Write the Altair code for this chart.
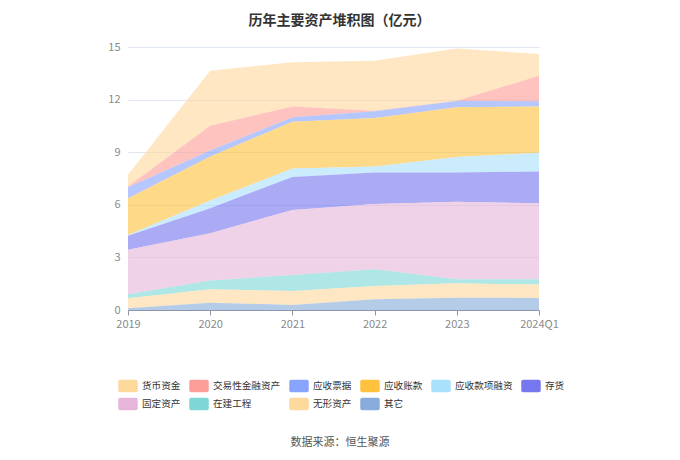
import altair as alt
import pandas as pd

years = ["2019", "2020", "2021", "2022", "2023", "2024Q1"]

# legend order (top of stack first)
series = ["货币资金", "交易性金融资产", "应收票据", "应收账款", "应收款项融资",
          "存货", "固定资产", "在建工程", "无形资产", "其它"]
colors = ["#FED99C", "#FD9E98", "#88A4FE", "#FEC23E", "#A9E1FC",
          "#7777EF", "#E6B6DA", "#7ED6D6", "#FED99C", "#88ADDC"]

v_cash = [0.67, 3.14, 2.52, 2.86, 2.98, 1.24]
v_trade = [0.04, 1.41, 0.61, 0.03, 0.02, 1.46]
v_notes = [0.62, 0.34, 0.26, 0.38, 0.35, 0.29]
v_ar = [2.10, 2.52, 2.67, 2.76, 2.85, 2.64]
v_arfin = [0.05, 0.43, 0.49, 0.35, 0.88, 1.07]
v_inv = [0.80, 1.43, 1.87, 1.79, 1.67, 1.81]
v_fixed = [2.53, 2.70, 3.71, 3.73, 4.42, 4.34]
v_cip = [0.23, 0.50, 0.91, 0.95, 0.23, 0.30]
v_intang = [0.57, 0.76, 0.80, 0.76, 0.82, 0.76]
v_other = [0.10, 0.42, 0.29, 0.61, 0.70, 0.69]

values = [v_cash, v_trade, v_notes, v_ar, v_arfin, v_inv, v_fixed, v_cip, v_intang, v_other]

rows = []
for si, (name, vals) in enumerate(zip(series, values)):
    for yr, v in zip(years, vals):
        rows.append({"year": yr, "series": name, "value": v, "order": len(series) - si})
df = pd.DataFrame(rows)

FONT = "Noto Sans CJK SC"
rounded = ("M-0.8,-0.63 H0.8 A0.2,0.2 0 0 1 1,-0.43 V0.43 A0.2,0.2 0 0 1 0.8,0.63 "
           "H-0.8 A0.2,0.2 0 0 1 -1,0.43 V-0.43 A0.2,0.2 0 0 1 -0.8,-0.63 Z")

area = alt.Chart(df).mark_area(opacity=0.62, interpolate="linear").encode(
    x=alt.X("year:O", sort=years, scale=alt.Scale(padding=0),
            axis=alt.Axis(title=None, labelAngle=0, labelColor="#8a8a8a", labelFontSize=11,
                          labelFont=FONT, domainColor="#8C96A8", tickColor="#8C96A8",
                          tickSize=5, labelPadding=3, grid=False)),
    y=alt.Y("value:Q", stack="zero", scale=alt.Scale(domain=[0, 15], nice=False),
            axis=alt.Axis(title=None, values=[0, 3, 6, 9, 12, 15], labelColor="#8a8a8a",
                          labelFontSize=11, labelFont=FONT, domain=False, ticks=False,
                          labelPadding=8, gridColor="#E0E6F1")),
    color=alt.Color("series:N", scale=alt.Scale(domain=series, range=colors),
                    legend=alt.Legend(title=None, orient="none", legendX=-10, legendY=329,
                                      direction="horizontal",
                                      columns=6, gridAlign="none", symbolType=rounded,
                                      symbolSize=380, symbolOpacity=1, symbolStrokeWidth=0,
                                      labelFontSize=9.6, labelFont=FONT, labelColor="#333333",
                                      labelOffset=4, columnPadding=8, rowPadding=1)),
    order=alt.Order("order:Q", sort="ascending"),
)

source = alt.Chart(pd.DataFrame({"t": ["数据来源：恒生聚源"]})).mark_text(
    font=FONT, fontSize=11, color="#555555", align="center", baseline="middle"
).encode(text="t:N", x=alt.value(212), y=alt.value(396))

chart = alt.layer(area, source).properties(
    width=411, height=263,
    padding={"left": 120, "top": 39, "right": 133, "bottom": 142},
    autosize=alt.AutoSizeParams(type="none"),
    title=alt.TitleParams("历年主要资产堆积图（亿元）", font=FONT, fontSize=14, fontWeight="bold",
                          color="#333333", anchor="middle", dx=6, offset=13),
).configure_view(stroke=None)

chart.save("out.html", embed_options={"renderer": "svg", "actions": False})
